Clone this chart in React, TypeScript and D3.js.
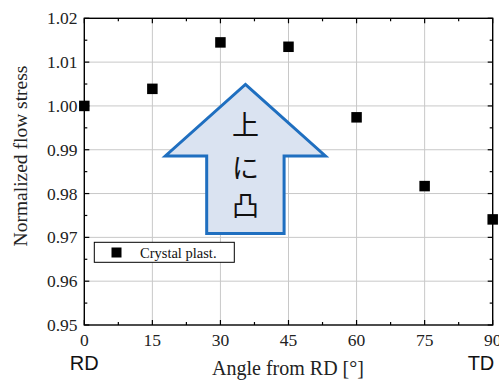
import React from "react";
import * as d3 from "d3";

// Measured flow stress, normalized to the RD value
const angles = [0, 15, 30, 45, 60, 75, 90];
const flowStress = [1.0, 1.0039, 1.0145, 1.0135, 0.9974, 0.9817, 0.9741];

const xTicks = [0, 15, 30, 45, 60, 75, 90];
const xMinorTicks = [7.5, 22.5, 37.5, 52.5, 67.5, 82.5];
const yTicks = [0.95, 0.96, 0.97, 0.98, 0.99, 1.0, 1.01, 1.02];
const yMinorTicks = [0.955, 0.965, 0.975, 0.985, 0.995, 1.005, 1.015];

const seriesName = "Crystal plast.";
const xTitle = "Angle from RD [°]";
const yTitle = "Normalized flow stress";
const arrowText = ["上", "に", "凸"];

const W = 499;
const H = 380;
const left = 84.3;
const right = 492.7;
const top = 18.3;
const bottom = 325;

const serif = "'Liberation Serif', 'Times New Roman', serif";
const sans = "'Liberation Sans', Arial, sans-serif";
const cjk = "'Noto Sans CJK JP', 'Noto Sans CJK SC', sans-serif";

export default function App() {
  const x = d3.scaleLinear().domain([0, 90]).range([left, right]);
  const y = d3.scaleLinear().domain([0.95, 1.02]).range([bottom, top]);

  const major = 5;
  const minor = 3;
  const sq = 10.5;

  // Upward arrow annotation
  const ax = 35.5; // tip angle
  const tipY = y(1.0049);
  const wingY = y(0.9886);
  const baseY = y(0.9709);
  const cx = x(ax);
  const wingHalf = 80;
  const shaftHalf = 38.7;
  const arrowPath = [
    [cx, tipY],
    [cx + wingHalf, wingY],
    [cx + shaftHalf, wingY],
    [cx + shaftHalf, baseY],
    [cx - shaftHalf, baseY],
    [cx - shaftHalf, wingY],
    [cx - wingHalf, wingY],
  ];
  const arrowLine = d3.line()(arrowPath as [number, number][]) + "Z";
  const charY = [123.5, 166.5, 204];

  return (
    <svg
      width={W}
      height={H}
      style={{ position: "absolute", left: 0, top: 0, background: "#fff" }}
    >
      {/* grid */}
      <g stroke="#c8c8c8" strokeWidth={1}>
        {xTicks.slice(1, -1).map((t) => (
          <line key={"gx" + t} x1={x(t)} x2={x(t)} y1={top} y2={bottom} />
        ))}
        {yTicks.slice(1, -1).map((t) => (
          <line key={"gy" + t} x1={left} x2={right} y1={y(t)} y2={y(t)} />
        ))}
      </g>

      {/* frame */}
      <rect
        x={left}
        y={top}
        width={right - left}
        height={bottom - top}
        fill="none"
        stroke="#000"
        strokeWidth={1.4}
      />

      {/* inward ticks on all four sides */}
      <g stroke="#000" strokeWidth={1.2}>
        {xTicks.map((t) => (
          <g key={"xt" + t}>
            <line x1={x(t)} x2={x(t)} y1={bottom} y2={bottom - major} />
            <line x1={x(t)} x2={x(t)} y1={top} y2={top + major} />
          </g>
        ))}
        {xMinorTicks.map((t) => (
          <g key={"xm" + t}>
            <line x1={x(t)} x2={x(t)} y1={bottom} y2={bottom - minor} />
            <line x1={x(t)} x2={x(t)} y1={top} y2={top + minor} />
          </g>
        ))}
        {yTicks.map((t) => (
          <g key={"yt" + t}>
            <line x1={left} x2={left + major} y1={y(t)} y2={y(t)} />
            <line x1={right} x2={right - major} y1={y(t)} y2={y(t)} />
          </g>
        ))}
        {yMinorTicks.map((t) => (
          <g key={"ym" + t}>
            <line x1={left} x2={left + minor} y1={y(t)} y2={y(t)} />
            <line x1={right} x2={right - minor} y1={y(t)} y2={y(t)} />
          </g>
        ))}
      </g>

      {/* tick labels */}
      <g fontFamily={serif} fontSize={17.5} fill="#222">
        {xTicks.map((t) => (
          <text key={"xl" + t} x={x(t)} y={346} textAnchor="middle">
            {t}
          </text>
        ))}
        {yTicks.map((t) => (
          <text key={"yl" + t} x={77.5} y={y(t) + 6} textAnchor="end">
            {t.toFixed(2)}
          </text>
        ))}
      </g>

      {/* axis titles */}
      <text
        x={288}
        y={375}
        textAnchor="middle"
        fontFamily={serif}
        fontSize={20}
        fill="#222"
      >
        {xTitle}
      </text>
      <text
        transform={`translate(27,156) rotate(-90)`}
        textAnchor="middle"
        fontFamily={serif}
        fontSize={19.5}
        fill="#222"
      >
        {yTitle}
      </text>
      <text
        x={x(0)}
        y={370}
        textAnchor="middle"
        fontFamily={sans}
        fontSize={20}
        fill="#111"
      >
        RD
      </text>
      <text
        x={481}
        y={370}
        textAnchor="middle"
        fontFamily={sans}
        fontSize={20}
        fill="#111"
      >
        TD
      </text>

      {/* arrow annotation */}
      <path
        d={arrowLine}
        fill="#dae3f1"
        stroke="#1f6fc0"
        strokeWidth={3}
        strokeLinejoin="miter"
      />
      {arrowText.map((c, i) => (
        <text
          key={c}
          x={cx}
          y={charY[i]}
          textAnchor="middle"
          dominantBaseline="central"
          fontFamily={cjk}
          fontSize={27}
          fill="#111"
        >
          {c}
        </text>
      ))}

      {/* legend */}
      <rect
        x={94.3}
        y={242.3}
        width={140}
        height={20}
        fill="#fff"
        stroke="#000"
        strokeWidth={1}
      />
      <rect x={111.5} y={247.5} width={10} height={10} fill="#000" />
      <text x={140} y={257.5} fontFamily={serif} fontSize={14.5} fill="#111">
        {seriesName}
      </text>

      {/* data points */}
      {angles.map((a, i) => (
        <rect
          key={"p" + a}
          x={x(a) - sq / 2}
          y={y(flowStress[i]) - sq / 2}
          width={sq}
          height={sq}
          fill="#000"
        />
      ))}
    </svg>
  );
}
